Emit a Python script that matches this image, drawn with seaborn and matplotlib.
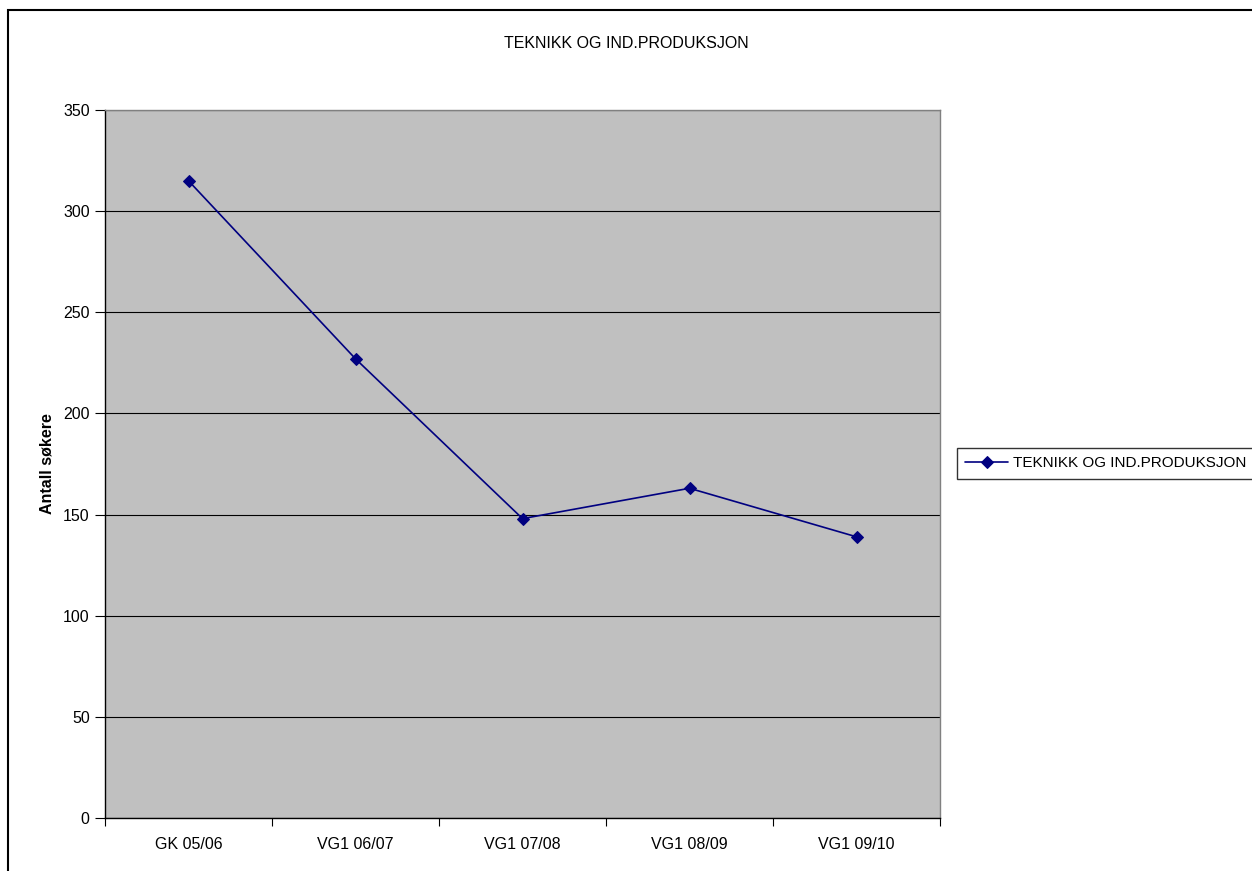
import pandas as pd
import matplotlib.pyplot as plt
import seaborn as sns
from matplotlib.patches import Rectangle

# data
aar = ['GK 05/06', 'VG1 06/07', 'VG1 07/08', 'VG1 08/09', 'VG1 09/10']
sokere = [315, 227, 148, 163, 139]
serie = 'TEKNIKK OG IND.PRODUKSJON'

df = pd.DataFrame({'aar': aar, 'sokere': sokere})

sns.set_style('white')
plt.rcParams['font.family'] = ['Liberation Sans', 'DejaVu Sans']
plt.rcParams['text.color'] = 'black'
plt.rcParams['axes.labelcolor'] = 'black'
plt.rcParams['xtick.color'] = 'black'
plt.rcParams['ytick.color'] = 'black'

fig = plt.figure(figsize=(12.52, 8.71), dpi=100)
ax = fig.add_axes([105 / 1252, 1 - 818 / 871, 835 / 1252, 708 / 871])
ax.set_facecolor('#C0C0C0')

# ytre ramme rundt diagrammet
fig.add_artist(Rectangle((8 / 1252, -0.1), 1.2, 1 - 10 / 871 + 0.1,
                         transform=fig.transFigure, fill=False,
                         edgecolor='black', linewidth=1.5))

x = list(range(len(aar)))
sns.lineplot(x=x, y=df['sokere'], ax=ax, color='#000080', marker='D',
             markersize=6.5, markeredgecolor='#000080', linewidth=1.2,
             label=serie)

ax.set_xlim(-0.5, len(aar) - 0.5)
ax.set_ylim(0, 350)
ax.set_yticks(range(0, 351, 50))
ax.yaxis.grid(True, color='black', linewidth=0.8)
ax.set_axisbelow(True)

ax.set_xticks(x)
ax.set_xticklabels(aar)
ax.set_xticks([i - 0.5 for i in range(len(aar) + 1)], minor=True)
ax.tick_params(axis='x', which='major', length=0, pad=14, labelsize=11.5)
ax.tick_params(axis='x', which='minor', length=6, width=0.8, direction='out', bottom=True)
ax.tick_params(axis='y', length=7, width=0.8, direction='out', left=True, labelsize=11.5, pad=4)

for side in ['top', 'right']:
    ax.spines[side].set_color('#808080')
for side in ['left', 'bottom']:
    ax.spines[side].set_color('black')
for s in ax.spines.values():
    s.set_linewidth(1.0)

ax.set_xlabel('')
ax.set_ylabel('Antall søkere', fontsize=11.5, fontweight='bold', labelpad=6)

fig.text(0.5, 1 - 44 / 871, serie, ha='center', va='center', fontsize=11.5)

leg = ax.legend(loc='upper left', bbox_to_anchor=(957 / 1252, 1 - 448 / 871),
                bbox_transform=fig.transFigure, frameon=True, fancybox=False,
                fontsize=11, handlelength=2.8, handletextpad=0.3,
                borderpad=0.55, borderaxespad=0)
leg.get_frame().set_edgecolor('black')
leg.get_frame().set_linewidth(1.0)

fig.savefig('out.png', dpi=100)
